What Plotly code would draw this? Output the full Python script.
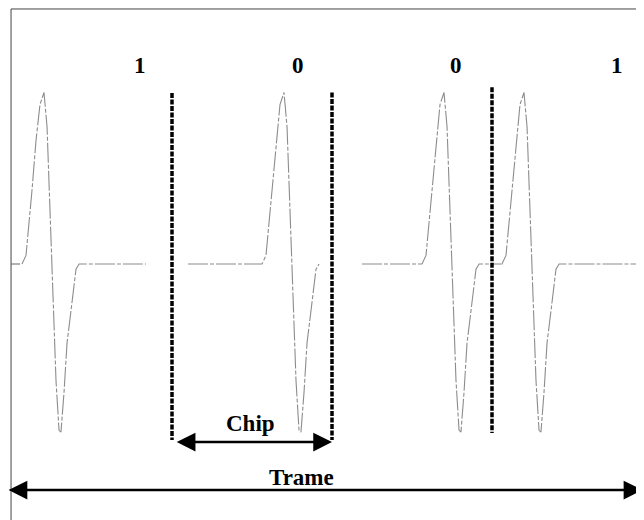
import plotly.graph_objects as go

# ---- data (time in chip units, amplitude normalised) ----
bits = [1, 0, 0, 1]
bit_labels = ["1", "0", "0", "1"]
chip_starts = [0.0, 1.0, 2.0, 3.0]
pulse_offset_bit1 = 0.2      # pulse position inside the chip for bit 1
pulse_offset_bit0 = 0.7      # pulse position inside the chip for bit 0

# monocycle shape (offset from peak, in chip units)
shape_t = [-0.1375, -0.1125, -0.075, -0.05, -0.025, 0.0, 0.019, 0.044,
           0.075, 0.094, 0.106, 0.125, 0.144, 0.169, 0.2, 0.219]
shape_a = [0.0, 0.05, 0.43, 0.72, 0.93, 1.0, 0.8, 0.14,
           -0.68, -0.97, -0.98, -0.75, -0.46, -0.27, -0.03, 0.0]

# visible extent of each chip's trace
trace_start = [0.0625, 1.1, 2.1875, 3.06]
trace_end = [0.8375, 1.919, 3.06, 3.925]

# chip boundaries (dashed)
boundary_x = [1.0, 2.0, 3.0]
boundary_top = [0.997, 1.0, 1.03]
boundary_bottom = [-1.026, -1.026, -0.985]

label_x = [0.8, 1.79, 2.775, 3.78]
label_y = 1.16

chip_arrow = (1.02, 2.0, -1.038)
frame_arrow = (-0.031, 3.94, -1.318)

fig = go.Figure()

for i, b in enumerate(bits):
    peak = chip_starts[i] + (pulse_offset_bit1 if b == 1 else pulse_offset_bit0)
    xs = [trace_start[i]]
    ys = [0.0]
    for t, a in zip(shape_t, shape_a):
        x = peak + t
        if trace_start[i] < x < trace_end[i]:
            xs.append(x)
            ys.append(a)
    xs.append(trace_end[i])
    ys.append(0.0)
    fig.add_trace(go.Scatter(x=xs, y=ys, mode="lines",
                             line=dict(color="#8c8c8c", width=1.1, dash="20px,2px,4px,2px"),
                             hoverinfo="skip", showlegend=False))

for bx, bt, bb in zip(boundary_x, boundary_top, boundary_bottom):
    fig.add_trace(go.Scatter(x=[bx, bx], y=[bt, bb], mode="lines",
                             line=dict(color="black", width=3.5, dash="5px,1.5px"),
                             hoverinfo="skip", showlegend=False))

for lx, lab in zip(label_x, bit_labels):
    fig.add_annotation(x=lx, y=label_y, text="<b>%s</b>" % lab, showarrow=False,
                       font=dict(family="Liberation Serif", size=23, color="black"))

for (x0, x1, y) in [chip_arrow, frame_arrow]:
    fig.add_annotation(x=x1, y=y, ax=x0, ay=y, xref="x", yref="y", axref="x", ayref="y",
                       text="", showarrow=True, arrowhead=2, arrowside="end+start",
                       arrowsize=1.5, arrowwidth=2.5, arrowcolor="black",
                       standoff=0, startstandoff=0)

fig.add_annotation(x=1.49, y=-0.93, text="<b>Chip</b>", showarrow=False,
                   font=dict(family="Liberation Serif", size=23, color="black"))
fig.add_annotation(x=1.81, y=-1.245, text="<b>Trame</b>", showarrow=False,
                   font=dict(family="Liberation Serif", size=23, color="black"))

# frame border (top and left) and small tick
fig.add_shape(type="line", xref="x", yref="y", x0=-0.006, x1=3.95, y0=1.487, y1=1.487,
              line=dict(color="#444", width=1))
fig.add_shape(type="line", xref="x", yref="y", x0=-0.006, x1=-0.006, y0=1.487, y1=-1.5,
              line=dict(color="#444", width=1))
fig.add_shape(type="line", xref="x", yref="y", x0=-0.006, x1=0.05, y0=0.0, y1=0.0,
              line=dict(color="#666", width=1))

# figure sized to the window minus the page's 8px body margin
fig.update_layout(width=636, height=512, margin=dict(l=0, r=0, t=0, b=0),
                  paper_bgcolor="white", plot_bgcolor="white", showlegend=False)
fig.update_xaxes(range=[-0.025, 3.95], visible=False, fixedrange=True)
fig.update_yaxes(range=[-1.4927, 1.4927], visible=False, fixedrange=True)

fig.write_html("out.html")
